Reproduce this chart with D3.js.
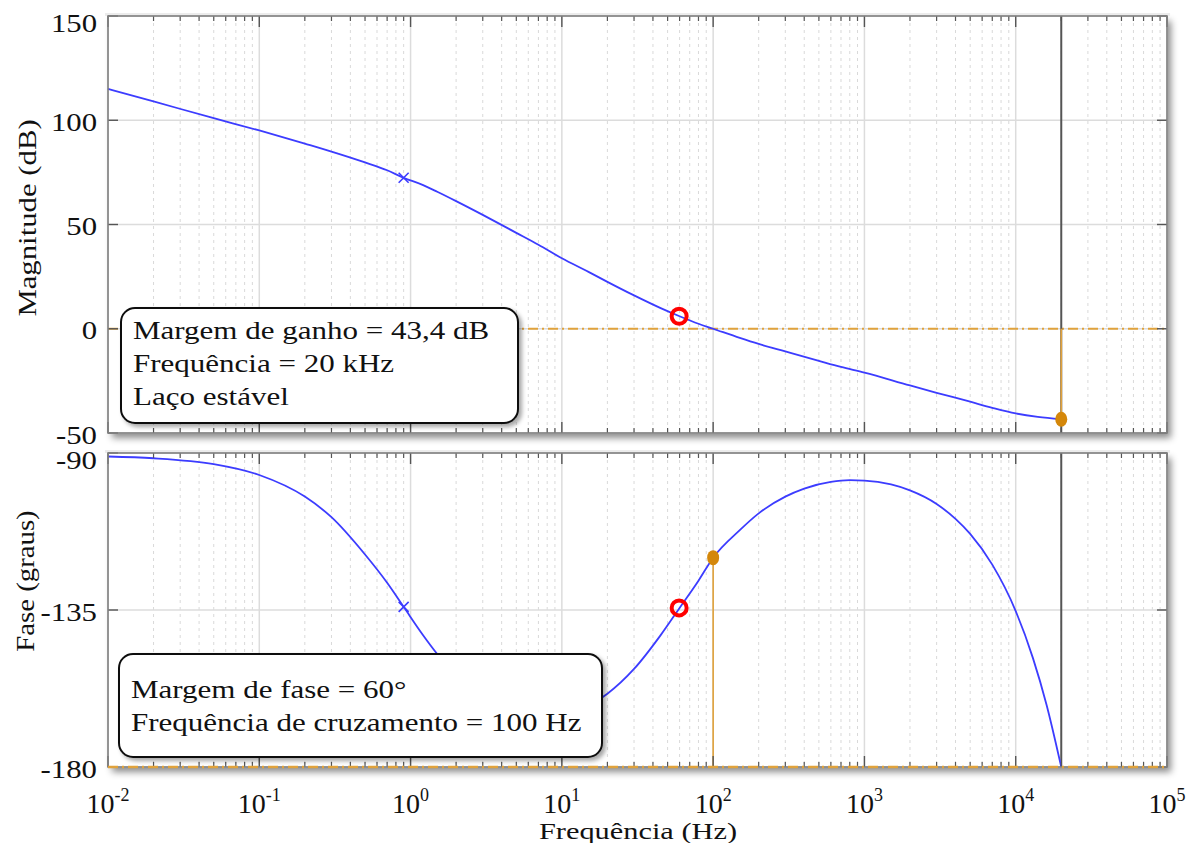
<!DOCTYPE html>
<html>
<head>
<meta charset="utf-8">
<script src="https://cdn.jsdelivr.net/npm/d3@7"></script>
<style>
  html, body { margin: 0; padding: 0; background: #fff; }
  svg { display: block; }
  text { font-family: "Liberation Serif", "Times New Roman", serif; fill: #111; }
</style>
</head>
<body>
<svg id="chart" width="1189" height="843"></svg>
<script>
// Open-loop Bode data (frequency in Hz)
const freqMag = [0.01, 0.02, 0.05, 0.1, 0.2, 0.3, 0.5, 0.7, 0.9, 1.2, 1.5, 2, 3, 5, 7, 10, 15, 20, 30, 45, 60, 80, 100, 150, 200, 300, 500, 700, 1000, 2000, 3000, 5000, 7000, 10000, 14000, 20000];
const magnitudeDb = [115.0, 109.0, 101.0, 95.1, 88.8, 85.0, 79.8, 76.0, 72.4, 69.0, 65.7, 61.2, 54.6, 46.0, 40.3, 33.8, 27.3, 22.5, 16.0, 9.9, 6.0, 2.4, 0.0, -4.4, -7.3, -10.9, -15.4, -18.3, -21.0, -27.2, -30.7, -35.0, -37.9, -40.6, -42.3, -43.4];

const freqPhase = [0.01, 0.02, 0.05, 0.1, 0.2, 0.3, 0.5, 0.7, 0.9, 1.2, 1.5, 2, 3, 5, 7, 10, 15, 20, 30, 45, 60, 80, 100, 150, 200, 300, 400, 600, 800, 1000, 1500, 2000, 3000, 4000, 5000, 7000, 10000, 13000, 16000, 20000];
const phaseDeg = [-91.0, -91.5, -93.2, -96.3, -102.5, -108.4, -119.1, -127.2, -134.1, -142.0, -147.6, -153.9, -160.4, -165.0, -166.0, -165.4, -162.5, -159.0, -151.9, -142.2, -134.4, -126.6, -120.0, -112.1, -107.3, -102.5, -100.2, -98.3, -97.8, -97.9, -99.0, -100.7, -104.6, -108.9, -113.2, -122.0, -135.3, -148.8, -162.2, -180.0];

// Pole (x) and zero (o) markers
const poleFreq = 0.9, poleMagDb = 72.4, polePhaseDeg = -134.1;
const zeroFreq = 59.6, zeroMagDb = 6.0, zeroPhaseDeg = -134.4;

// Stability margins
const gainMarginDb = 43.4, phaseCrossoverHz = 20000;
const phaseMarginDeg = 60, gainCrossoverHz = 100;

// Axes
const decadeExponents = [-2, -1, 0, 1, 2, 3, 4, 5];
const magTicks = [150, 100, 50, 0, -50];
const phaseTicks = [-90, -135, -180];
const magTitle = "Magnitude (dB)";
const phaseTitle = "Fase (graus)";
const freqTitle = "Frequência (Hz)";

const gainNote = ["Margem de ganho = 43,4 dB", "Frequência = 20 kHz", "Laço estável"];
const phaseNote = ["Margem de fase = 60°", "Frequência de cruzamento = 100 Hz"];

// ---------------------------------------------------------------
const svg = d3.select("#chart");
const defs = svg.append("defs");
const sh = defs.append("filter").attr("id", "panelShadow")
  .attr("x", "-5%").attr("y", "-5%").attr("width", "112%").attr("height", "120%");
sh.append("feDropShadow").attr("dx", 4).attr("dy", 5).attr("stdDeviation", 3.5)
  .attr("flood-color", "#000").attr("flood-opacity", 0.45);
const bs = defs.append("filter").attr("id", "boxShadow")
  .attr("x", "-10%").attr("y", "-10%").attr("width", "125%").attr("height", "135%");
bs.append("feDropShadow").attr("dx", 3).attr("dy", 3).attr("stdDeviation", 2)
  .attr("flood-color", "#000").attr("flood-opacity", 0.35);

const X0 = 108, X1 = 1167;
const x = d3.scaleLog().domain([1e-2, 1e5]).range([X0, X1]);
const yMag = d3.scaleLinear().domain([-50, 150]).range([433, 16]);
const yPh = d3.scaleLinear().domain([-180, -90]).range([767, 453]);

const STRETCH = 1.23;
const minorFreqs = [];
decadeExponents.slice(0, -1).forEach(e => {
  for (let k = 2; k <= 9; k++) minorFreqs.push(k * Math.pow(10, e));
});
const majorFreqs = decadeExponents.map(e => Math.pow(10, e));

function stretchText(sel, factor) {
  sel.each(function () {
    const len = this.getComputedTextLength();
    d3.select(this).attr("textLength", len * factor).attr("lengthAdjust", "spacingAndGlyphs");
  });
}

function panel(y, ticks) {
  const [yb, yt] = y.range();
  const g = svg.append("g");
  g.append("rect").attr("x", X0).attr("y", yt).attr("width", X1 - X0).attr("height", yb - yt)
    .attr("fill", "#fff").attr("filter", "url(#panelShadow)");
  g.append("rect").attr("x", X0 - 3).attr("y", yt - 3).attr("width", X1 - X0 + 6).attr("height", 3)
    .attr("fill", "#ececec");
  // minor vertical grid
  g.selectAll(".mg").data(minorFreqs).join("line")
    .attr("x1", d => x(d)).attr("x2", d => x(d)).attr("y1", yt).attr("y2", yb)
    .attr("stroke", "#d9d9d9").attr("stroke-width", 1).attr("stroke-dasharray", "3,4");
  // major vertical grid
  g.selectAll(".Mg").data(majorFreqs).join("line")
    .attr("x1", d => x(d)).attr("x2", d => x(d)).attr("y1", yt).attr("y2", yb)
    .attr("stroke", "#dcdcdc").attr("stroke-width", 1.5);
  // horizontal grid
  g.selectAll(".hg").data(ticks).join("line")
    .attr("x1", X0).attr("x2", X1).attr("y1", d => y(d)).attr("y2", d => y(d))
    .attr("stroke", "#dcdcdc").attr("stroke-width", 1.5);
  return g;
}

function frame(g, y, ticks) {
  const [yb, yt] = y.range();
  // inward ticks on all sides
  const tk = g.append("g").attr("stroke", "#555");
  tk.selectAll(".mt").data(minorFreqs).join("line")
    .attr("x1", d => x(d)).attr("x2", d => x(d)).attr("y1", yb).attr("y2", yb - 5).attr("stroke-width", 1.2);
  tk.selectAll(".mt2").data(minorFreqs).join("line")
    .attr("x1", d => x(d)).attr("x2", d => x(d)).attr("y1", yt).attr("y2", yt + 5).attr("stroke-width", 1.2);
  tk.selectAll(".Mt").data(majorFreqs).join("line")
    .attr("x1", d => x(d)).attr("x2", d => x(d)).attr("y1", yb).attr("y2", yb - 11).attr("stroke-width", 1.4);
  tk.selectAll(".Mt2").data(majorFreqs).join("line")
    .attr("x1", d => x(d)).attr("x2", d => x(d)).attr("y1", yt).attr("y2", yt + 11).attr("stroke-width", 1.4);
  tk.selectAll(".yt").data(ticks).join("line")
    .attr("x1", X0).attr("x2", X0 + 10).attr("y1", d => y(d)).attr("y2", d => y(d)).attr("stroke-width", 1.4);
  tk.selectAll(".yt2").data(ticks).join("line")
    .attr("x1", X1).attr("x2", X1 - 10).attr("y1", d => y(d)).attr("y2", d => y(d)).attr("stroke-width", 1.4);
  g.append("rect").attr("x", X0).attr("y", yt).attr("width", X1 - X0).attr("height", yb - yt)
    .attr("fill", "none").attr("stroke", "#808080").attr("stroke-width", 1.6);
  // y tick labels
  const lab = g.selectAll(".yl").data(ticks).join("text")
    .attr("x", 97).attr("y", (d, i) => y(d) + (i === 0 ? 7 : 2))
    .attr("text-anchor", "end").attr("dominant-baseline", "central")
    .attr("font-size", 25).text(d => d3.format("d")(d).replace("−", "-"));
  stretchText(lab, STRETCH);
}

const line = (xs, ys, yScale) => d3.line().curve(d3.curveMonotoneX)
  .x((d, i) => x(xs[i])).y((d, i) => yScale(ys[i]))(xs);

const blue = "#3c3cff", orange = "#e0a23c", orangeDot = "#d4870a";

// ---------------- Magnitude panel ----------------
const gm = panel(yMag, magTicks);
gm.append("line").attr("x1", X0).attr("x2", X1).attr("y1", yMag(0)).attr("y2", yMag(0))
  .attr("stroke", orange).attr("stroke-width", 2).attr("stroke-dasharray", "10,4,2,4");
gm.append("line").attr("x1", x(phaseCrossoverHz)).attr("x2", x(phaseCrossoverHz))
  .attr("y1", yMag.range()[1]).attr("y2", yMag.range()[0]).attr("stroke", "#555").attr("stroke-width", 2);
gm.append("line").attr("x1", x(phaseCrossoverHz)).attr("x2", x(phaseCrossoverHz))
  .attr("y1", yMag(0)).attr("y2", yMag(-gainMarginDb)).attr("stroke", orange).attr("stroke-width", 1.6);
gm.append("path").attr("d", line(freqMag, magnitudeDb, yMag))
  .attr("fill", "none").attr("stroke", blue).attr("stroke-width", 1.8);
frame(gm, yMag, magTicks);

// ---------------- Phase panel ----------------
const gp = panel(yPh, phaseTicks);
gp.append("line").attr("x1", x(phaseCrossoverHz)).attr("x2", x(phaseCrossoverHz))
  .attr("y1", yPh.range()[1]).attr("y2", yPh.range()[0]).attr("stroke", "#555").attr("stroke-width", 2);
gp.append("line").attr("x1", x(gainCrossoverHz)).attr("x2", x(gainCrossoverHz))
  .attr("y1", yPh(-180)).attr("y2", yPh(-180 + phaseMarginDeg)).attr("stroke", orange).attr("stroke-width", 1.6);
gp.append("path").attr("d", line(freqPhase, phaseDeg, yPh))
  .attr("fill", "none").attr("stroke", blue).attr("stroke-width", 1.8);
frame(gp, yPh, phaseTicks);
gp.append("line").attr("x1", X0).attr("x2", X1).attr("y1", yPh(-180)).attr("y2", yPh(-180))
  .attr("stroke", orange).attr("stroke-width", 2.4).attr("stroke-dasharray", "10,4,2,4");

// ---------------- markers ----------------
function cross(g, cx, cy) {
  const s = 5;
  g.append("path").attr("d", `M${cx - s},${cy - s}L${cx + s},${cy + s}M${cx - s},${cy + s}L${cx + s},${cy - s}`)
    .attr("stroke", blue).attr("stroke-width", 1.6);
}
function ring(g, cx, cy) {
  g.append("circle").attr("cx", cx).attr("cy", cy).attr("r", 7.5)
    .attr("fill", "none").attr("stroke", "#ff0000").attr("stroke-width", 4);
}
function dot(g, cx, cy) {
  g.append("ellipse").attr("cx", cx).attr("cy", cy).attr("rx", 6).attr("ry", 7.5).attr("fill", orangeDot);
}
cross(gm, x(poleFreq), yMag(poleMagDb));
cross(gp, x(poleFreq), yPh(polePhaseDeg));
ring(gm, x(zeroFreq), yMag(zeroMagDb));
ring(gp, x(zeroFreq), yPh(zeroPhaseDeg));
dot(gm, x(phaseCrossoverHz), yMag(-gainMarginDb));
dot(gp, x(gainCrossoverHz), yPh(-180 + phaseMarginDeg));

// ---------------- annotation boxes ----------------
function note(lines, bx, by, bw, bh, firstBaseline, step) {
  const g = svg.append("g");
  g.append("rect").attr("x", bx).attr("y", by).attr("width", bw).attr("height", bh)
    .attr("rx", 14).attr("ry", 14).attr("fill", "#fff").attr("stroke", "#111").attr("stroke-width", 2)
    .attr("filter", "url(#boxShadow)");
  const t = g.selectAll("text").data(lines).join("text")
    .attr("x", bx + 12).attr("y", (d, i) => firstBaseline + i * step)
    .attr("font-size", 25).text(d => d);
  stretchText(t, 1.24);
}
note(gainNote, 121, 308, 397, 115, 339, 33);
note(phaseNote, 119, 654, 483, 103, 698, 33);

// ---------------- x tick labels ----------------
const xl = svg.append("g").selectAll("text").data(decadeExponents).join("text")
  .attr("x", d => x(Math.pow(10, d))).attr("y", 813).attr("text-anchor", "middle")
  .attr("font-size", 28);
xl.append("tspan").text("10");
xl.append("tspan").attr("font-size", 18).attr("dy", -12).text(d => String(d));

// ---------------- axis titles ----------------
const tm = svg.append("text").attr("transform", "translate(27,218) rotate(-90)")
  .attr("text-anchor", "middle").attr("dominant-baseline", "central").attr("font-size", 25).text(magTitle);
stretchText(tm, STRETCH);
const tp = svg.append("text").attr("transform", "translate(25,581) rotate(-90)")
  .attr("text-anchor", "middle").attr("dominant-baseline", "central").attr("font-size", 25).text(phaseTitle);
stretchText(tp, 1.15);
const tf = svg.append("text").attr("x", 638).attr("y", 838.5).attr("text-anchor", "middle")
  .attr("font-size", 23).text(freqTitle);
stretchText(tf, 1.32);
</script>
</body>
</html>
